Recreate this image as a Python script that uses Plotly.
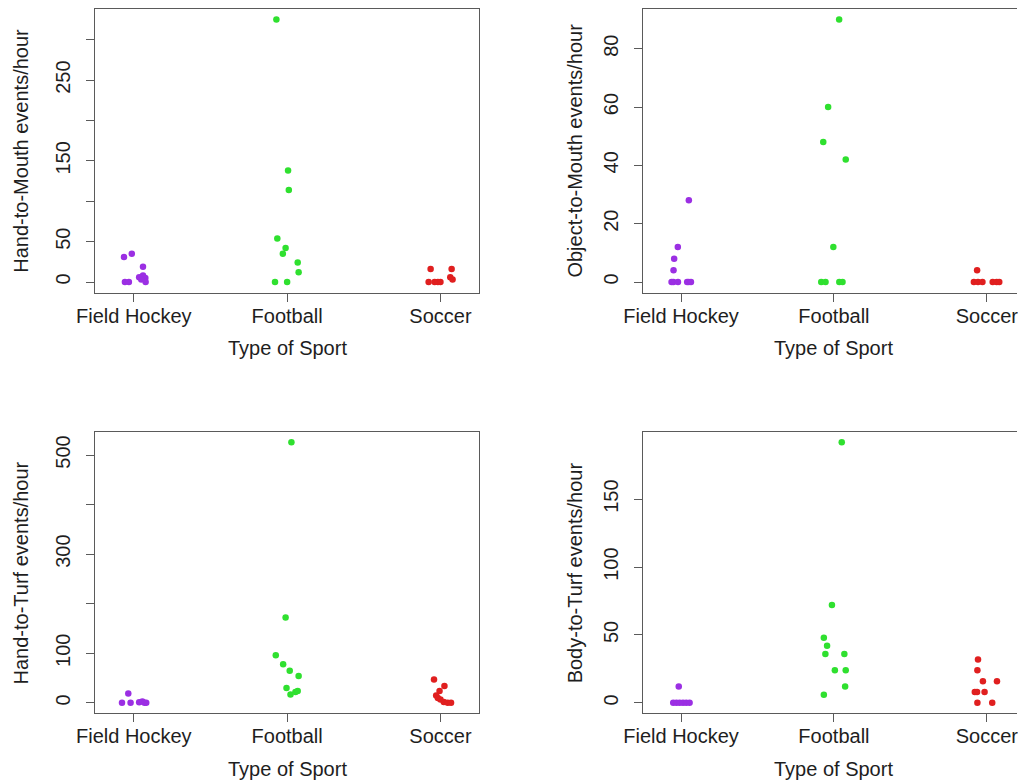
import plotly.graph_objects as go

W, H = 1018, 783

categories = ["Field Hockey", "Football", "Soccer"]
colors = ["#9b2fe3", "#2fe02f", "#e01f1f"]

# ---- Hand-to-Mouth ----
hm_fh = [31, 35, 19, 0, 0, 6, 8, 5, 3, 0]
hm_fh_jit = [-0.064, -0.013, 0.060, -0.058, -0.032, 0.035, 0.060, 0.075, 0.049, 0.077]
hm_fb = [325, 138, 114, 54, 42, 35, 24, 12, 0, 0]
hm_fb_jit = [-0.070, 0.006, 0.011, -0.064, -0.010, -0.028, 0.069, 0.075, -0.079, 0.000]
hm_sc = [16, 16, 0, 0, 0, 0, 6, 3]
hm_sc_jit = [-0.064, 0.073, -0.077, -0.038, -0.017, 0.000, 0.064, 0.079]

# ---- Object-to-Mouth ----
om_fh = [28, 12, 8, 4, 0, 0, 0, 0, 0, 0]
om_fh_jit = [0.051, -0.021, -0.045, -0.049, -0.062, -0.050, -0.020, 0.040, 0.050, 0.065]
om_fb = [90, 60, 48, 42, 12, 0, 0, 0, 0]
om_fb_jit = [0.034, -0.038, -0.070, 0.077, -0.004, -0.083, -0.055, 0.035, 0.056]
om_sc = [4, 0, 0, 0, 0, 0, 0]
om_sc_jit = [-0.064, -0.085, -0.058, -0.029, 0.038, 0.064, 0.081]

# ---- Hand-to-Turf ----
ht_fh = [19, 0, 0, 1.5, 3, 0, 0]
ht_fh_jit = [-0.036, -0.077, -0.021, 0.035, 0.056, 0.070, 0.081]
ht_fb = [526, 172, 96, 78, 65, 54, 30, 17, 22, 24]
ht_fb_jit = [0.028, -0.010, -0.074, -0.026, 0.017, 0.075, -0.004, 0.022, 0.054, 0.069]
ht_sc = [47, 34, 24, 15, 10, 7, 2, 0, 0]
ht_sc_jit = [-0.042, 0.026, -0.006, -0.028, -0.017, 0.000, 0.022, 0.047, 0.069]

# ---- Body-to-Turf ----
bt_fh = [12, 0, 0, 0, 0, 0, 0]
bt_fh_jit = [-0.015, -0.051, -0.030, -0.009, 0.013, 0.034, 0.056]
bt_fb = [192, 72, 48, 42, 36, 36, 24, 24, 12, 6]
bt_fb_jit = [0.051, -0.013, -0.066, -0.045, -0.056, 0.068, 0.006, 0.077, 0.073, -0.066]
bt_sc = [32, 24, 16, 16, 8, 8, 8, 0, 0]
bt_sc_jit = [-0.058, -0.062, -0.026, 0.066, -0.079, -0.064, -0.015, -0.062, 0.035]

# tick settings
hm_ticks = [0, 50, 100, 150, 200, 250, 300]
hm_labels = ["0", "50", "", "150", "", "250", ""]
om_ticks = [0, 20, 40, 60, 80]
om_labels = ["0", "20", "40", "60", "80"]
ht_ticks = [0, 100, 200, 300, 400, 500]
ht_labels = ["0", "100", "", "300", "", "500"]
bt_ticks = [0, 50, 100, 150]
bt_labels = ["0", "50", "100", "150"]

ytitles = ["Hand-to-Mouth events/hour", "Object-to-Mouth events/hour",
           "Hand-to-Turf events/hour", "Body-to-Turf events/hour"]
xtitle = "Type of Sport"

panels = [
    ([hm_fh, hm_fb, hm_sc], [hm_fh_jit, hm_fb_jit, hm_sc_jit], hm_ticks, hm_labels),
    ([om_fh, om_fb, om_sc], [om_fh_jit, om_fb_jit, om_sc_jit], om_ticks, om_labels),
    ([ht_fh, ht_fb, ht_sc], [ht_fh_jit, ht_fb_jit, ht_sc_jit], ht_ticks, ht_labels),
    ([bt_fh, bt_fb, bt_sc], [bt_fh_jit, bt_fb_jit, bt_sc_jit], bt_ticks, bt_labels),
]

FONT = "Liberation Sans, Arial, sans-serif"
LINE = "#5a5a5a"
TXT = "#1e1e1e"

# pixel boxes: (left, right, top, bottom)
boxes = [(78, 469, 9, 292.5), (636.3, 1018, 9, 292.5),
         (78, 469, 431.7, 713.3), (636.3, 1018, 431.7, 713.3)]
xranges = [[0.75, 3.25], [0.75, 3.197], [0.75, 3.25], [0.75, 3.197]]

fig = go.Figure()
layout = dict(width=W, height=H, margin=dict(l=0, r=0, t=0, b=0),
              paper_bgcolor="white", plot_bgcolor="white", showlegend=False,
              font=dict(family=FONT, size=20, color=TXT))
annotations = []

for i, (groups, jits, tv, tt) in enumerate(panels):
    n = i + 1
    xa = "x" if n == 1 else f"x{n}"
    ya = "y" if n == 1 else f"y{n}"
    for g, (vals, jit) in enumerate(zip(groups, jits)):
        fig.add_trace(go.Scatter(
            x=[g + 1 + j for j in jit], y=vals, mode="markers",
            marker=dict(color=colors[g], size=6.5, line=dict(width=0)),
            xaxis=xa, yaxis=ya, hoverinfo="skip"))
    allv = [v for grp in groups for v in grp]
    lo, hi = min(allv), max(allv)
    pad = 0.04 * (hi - lo)
    l, r, t, b = boxes[i]
    right_side = n in (2, 4)
    layout[f"xaxis{'' if n == 1 else n}"] = dict(
        domain=[l / W, r / W], range=xranges[i], anchor=ya,
        tickvals=[1, 2, 3], ticktext=categories, ticks="outside", ticklen=8,
        tickcolor=LINE, tickwidth=1.2, showline=True, linecolor=LINE, linewidth=1.2,
        mirror=True, showgrid=False, zeroline=False, ticklabeloverflow="allow",
        ticklabelstandoff=-3,
        tickfont=dict(size=20, color=TXT, family=FONT), fixedrange=True)
    layout[f"yaxis{'' if n == 1 else n}"] = dict(
        domain=[1 - b / H, 1 - t / H], range=[lo - pad, hi + pad], anchor=xa,
        tickvals=tv, ticktext=tt, tickangle=-90, ticks="outside", ticklen=8,
        tickcolor=LINE, tickwidth=1.2, showline=True, linecolor=LINE, linewidth=1.2,
        mirror=not right_side, showgrid=False, zeroline=False, ticklabelstandoff=8,
        tickfont=dict(size=20, color=TXT, family=FONT), fixedrange=True)
    # axis titles
    ytx = 2 if not right_side else 567
    annotations.append(dict(text=ytitles[i], textangle=-90, xref="paper", yref="paper",
                            x=ytx / W, y=1 - ((t + b) / 2) / H, xanchor="center",
                            yanchor="middle", showarrow=False,
                            font=dict(size=20, color=TXT, family=FONT)))
    xty = 348 if n <= 2 else 769
    annotations.append(dict(text=xtitle, xref=xa, yref="paper", x=2,
                            y=1 - xty / H, xanchor="center", yanchor="middle",
                            showarrow=False, font=dict(size=20, color=TXT, family=FONT)))

layout["annotations"] = annotations
fig.update_layout(**layout)
fig.write_html("out.html")
